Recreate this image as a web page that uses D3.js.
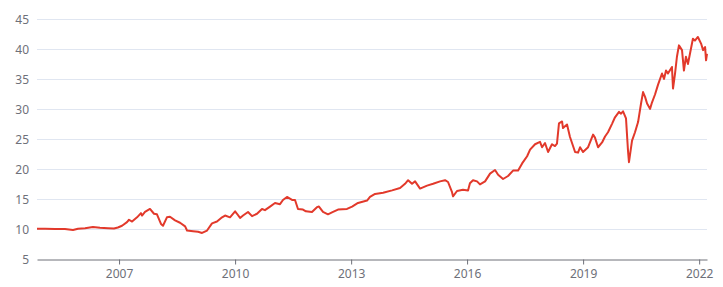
<!DOCTYPE html>
<html>
<head>
<meta charset="utf-8">
<script src="https://cdn.jsdelivr.net/npm/d3@7"></script>
<style>
    html, body { margin: 0; padding: 0; background: #fff; }
    svg text { font-family: "Noto Sans", sans-serif; font-size: 12px; fill: #6E7079; }
</style>
</head>
<body>
<svg id="chart" width="723" height="287"></svg>
<script>
(function(){
'use strict';

// dates / values
var dates = [
    "2004-11-17", "2005-02-01", "2005-05-06", "2005-08-08", "2005-10-23", "2005-12-09",
    "2006-02-14", "2006-04-29", "2006-07-05", "2006-09-19", "2006-11-14", "2006-12-21",
    "2007-01-29", "2007-03-17", "2007-04-05", "2007-05-04", "2007-06-20", "2007-07-27",
    "2007-08-06", "2007-09-03", "2007-10-20", "2007-11-27", "2007-12-25", "2008-02-01",
    "2008-02-20", "2008-03-28", "2008-04-26", "2008-06-13", "2008-07-30", "2008-09-16",
    "2008-10-04", "2008-11-30", "2009-01-16", "2009-02-23", "2009-04-11", "2009-05-28",
    "2009-07-14", "2009-08-31", "2009-09-28", "2009-11-14", "2010-01-01", "2010-01-19",
    "2010-02-17", "2010-03-17", "2010-05-03", "2010-06-10", "2010-07-27", "2010-09-12",
    "2010-10-10", "2010-11-27", "2011-01-13", "2011-03-01", "2011-03-29", "2011-05-06",
    "2011-06-23", "2011-07-21", "2011-08-18", "2011-10-04", "2011-11-01", "2011-12-28",
    "2012-02-13", "2012-03-03", "2012-04-10", "2012-05-27", "2012-07-14", "2012-08-30",
    "2012-11-23", "2013-01-10", "2013-03-07", "2013-05-31", "2013-06-28", "2013-08-15",
    "2013-10-30", "2014-01-23", "2014-04-08", "2014-05-25", "2014-06-23", "2014-07-30",
    "2014-08-28", "2014-10-14", "2014-12-19", "2015-02-14", "2015-04-21", "2015-06-07",
    "2015-07-05", "2015-08-12", "2015-08-21", "2015-09-28", "2015-11-23", "2016-01-10",
    "2016-01-28", "2016-02-26", "2016-04-04", "2016-05-02", "2016-06-19", "2016-08-05",
    "2016-09-21", "2016-10-20", "2016-12-06", "2017-01-22", "2017-03-10", "2017-04-27",
    "2017-06-04", "2017-07-21", "2017-08-18", "2017-10-04", "2017-11-20", "2017-12-09",
    "2018-01-06", "2018-02-04", "2018-03-13", "2018-04-10", "2018-04-29", "2018-05-18",
    "2018-06-16", "2018-06-25", "2018-08-02", "2018-08-30", "2018-10-17", "2018-11-14",
    "2018-12-03", "2018-12-31", "2019-02-17", "2019-04-05", "2019-04-23", "2019-05-22",
    "2019-06-29", "2019-07-27", "2019-08-24", "2019-10-01", "2019-10-29", "2019-12-06",
    "2019-12-25", "2020-01-13", "2020-02-10", "2020-02-29", "2020-03-09", "2020-04-07",
    "2020-05-05", "2020-06-03", "2020-07-01", "2020-07-20", "2020-08-08", "2020-08-27",
    "2020-09-24", "2020-10-13", "2020-11-10", "2020-12-08", "2021-01-15", "2021-02-03",
    "2021-02-22", "2021-03-12", "2021-04-19", "2021-04-29", "2021-05-18", "2021-06-05",
    "2021-06-24", "2021-07-23", "2021-08-10", "2021-08-29", "2021-09-17", "2021-10-06",
    "2021-11-03", "2021-11-22", "2021-12-20", "2022-01-19", "2022-02-07", "2022-02-26",
    "2022-03-07", "2022-03-16"
];

var values = [
    10.0, 10.0, 9.95, 9.95, 9.8, 10.0,
    10.1, 10.3, 10.15, 10.1, 10.05, 10.2,
    10.5, 11.1, 11.5, 11.2, 11.9, 12.6,
    12.2, 12.8, 13.3, 12.5, 12.4, 10.8,
    10.5, 11.9, 12.0, 11.4, 11.0, 10.4,
    9.7, 9.6, 9.5, 9.3, 9.7, 10.9,
    11.2, 11.9, 12.2, 11.9, 12.9, 12.5,
    11.8, 12.2, 12.8, 12.1, 12.5, 13.3,
    13.1, 13.7, 14.3, 14.1, 14.8, 15.3,
    14.8, 14.8, 13.3, 13.2, 12.9, 12.8,
    13.6, 13.7, 12.8, 12.4, 12.8, 13.2,
    13.3, 13.7, 14.3, 14.7, 15.3, 15.8,
    16.0, 16.4, 16.8, 17.5, 18.1, 17.5,
    17.9, 16.7, 17.2, 17.5, 17.9, 18.1,
    17.8, 16.1, 15.4, 16.3, 16.5, 16.4,
    17.6, 18.1, 17.9, 17.4, 17.9, 19.2,
    19.8, 19.0, 18.3, 18.8, 19.7, 19.7,
    20.9, 22.1, 23.2, 24.1, 24.5, 23.6,
    24.3, 22.8, 24.1, 23.8, 24.2, 27.6,
    27.9, 26.8, 27.4, 25.3, 22.8, 22.7,
    23.6, 22.8, 23.6, 25.7, 25.2, 23.6,
    24.4, 25.4, 26.1, 27.5, 28.6, 29.5,
    29.2, 29.6, 28.4, 23.0, 21.1, 24.7,
    26.1, 27.8, 30.9, 32.8, 32.0, 30.9,
    30.0, 31.1, 32.4, 34.0, 35.9, 35.0,
    36.4, 35.9, 37.0, 33.4, 35.9, 38.7,
    40.6, 39.8, 36.4, 38.7, 37.5, 39.2,
    41.7, 41.4, 42.0, 40.9, 39.8, 40.3,
    38.1, 39.2
];

var yTicks = [5, 10, 15, 20, 25, 30, 35, 40, 45];
var xTickYears = [2007, 2010, 2013, 2016, 2019, 2022];

var margin = {top: 19, right: 16, bottom: 29, left: 37},
    width = 723,
    height = 287;

var parseDate = d3.timeParse("%Y-%m-%d");
var data = dates.map(function(d, i) { return {date: parseDate(d), value: values[i]}; });

var svg = d3.select("#chart");

var x = d3.scaleTime()
    .domain(d3.extent(data, function(d) { return d.date; }))
    .range([margin.left, width - margin.right]);

var y = d3.scaleLinear()
    .domain([5, 45])
    .range([height - margin.bottom + 0.7, margin.top]);

// horizontal grid lines
svg.append("g")
    .attr("class", "grid")
    .selectAll("line")
    .data(yTicks.slice(1))
    .enter().append("line")
    .attr("x1", margin.left)
    .attr("x2", width - margin.right)
    .attr("y1", function(d) { return Math.round(y(d)) + 0.5; })
    .attr("y2", function(d) { return Math.round(y(d)) + 0.5; })
    .attr("stroke", "#E0E6F1")
    .attr("stroke-width", 1);

// y labels
svg.append("g")
    .selectAll("text")
    .data(yTicks)
    .enter().append("text")
    .attr("x", margin.left - 8)
    .attr("y", function(d) { return Math.round(y(d)) + 0.5; })
    .attr("text-anchor", "end")
    .attr("dominant-baseline", "central")
    .text(function(d) { return d; });

// x axis
var xAxis = d3.axisBottom(x)
    .tickValues(xTickYears.map(function(yr) { return new Date(yr, 0, 1); }))
    .tickFormat(d3.timeFormat("%Y"))
    .tickSize(5)
    .tickPadding(5)
    .tickSizeOuter(0);

var gx = svg.append("g")
    .attr("transform", "translate(0," + (Math.round(y(5)) + 0.5) + ")")
    .call(xAxis);
gx.select(".domain").attr("stroke", "#6E7079");
gx.selectAll(".tick line").attr("stroke", "#6E7079");
gx.selectAll(".tick text")
    .attr("fill", "#6E7079")
    .style("font-family", null)
    .style("font-size", null)
    .attr("font-family", null)
    .attr("font-size", null);
gx.attr("font-family", null).attr("font-size", null);

// the series
var line = d3.line()
    .x(function(d) { return x(d.date); })
    .y(function(d) { return y(d.value); });

svg.append("path")
    .datum(data)
    .attr("fill", "none")
    .attr("stroke", "#E2392B")
    .attr("stroke-width", 2)
    .attr("stroke-linejoin", "round")
    .attr("d", line);

})();
</script>
</body>
</html>
